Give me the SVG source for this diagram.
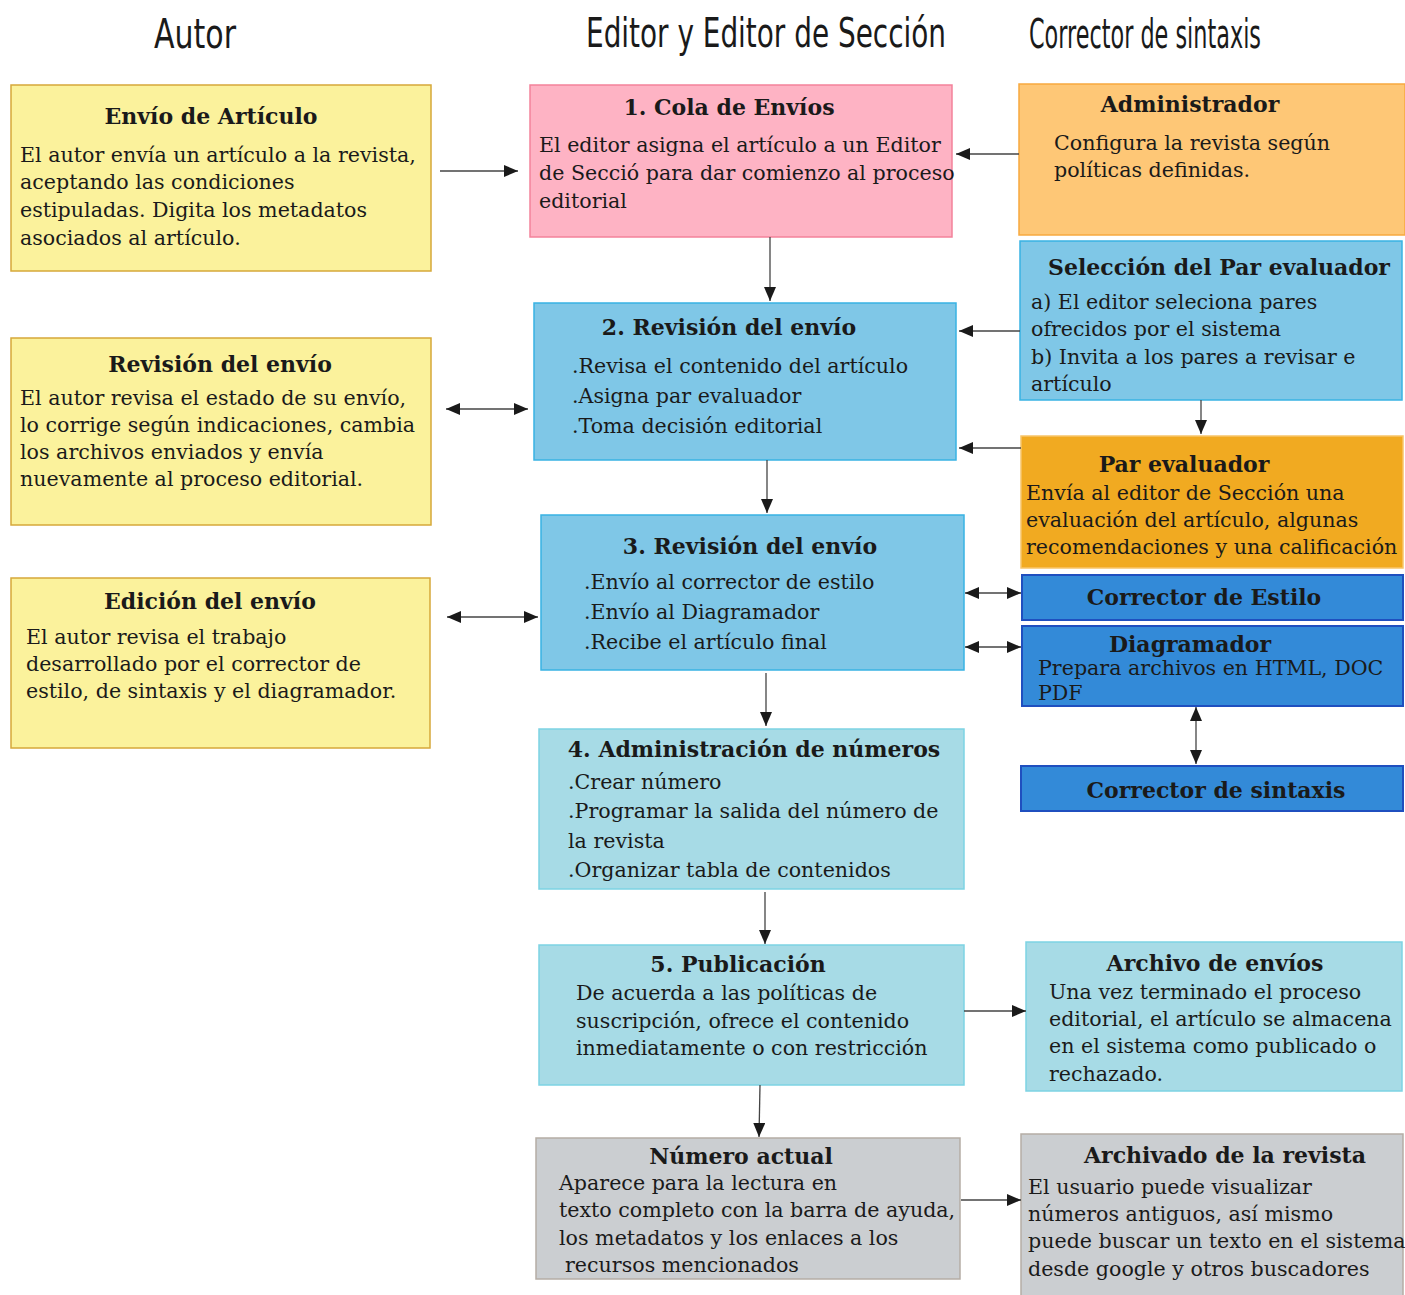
<svg xmlns="http://www.w3.org/2000/svg" width="1405" height="1295" viewBox="0 0 1405 1295">
<style>
.hd{font-family:"DejaVu Sans Condensed","Liberation Sans Narrow","DejaVu Sans",sans-serif;font-stretch:condensed;font-size:40px;fill:#1a1a1a}
.t{font-family:"DejaVu Serif","Liberation Serif",serif;font-weight:bold;font-size:22px;fill:#1a1a1a;text-anchor:middle}
.b{font-family:"DejaVu Serif","Liberation Serif",serif;font-size:20.6px;fill:#1a1a1a}
.yel{fill:#fbf29c;stroke:#d6a83a;stroke-width:1.5}
.pink{fill:#feb3c4;stroke:#f3829b;stroke-width:1.5}
.blue{fill:#7fc7e7;stroke:#39b3e3;stroke-width:1.5}
.cyan{fill:#a7dbe6;stroke:#7dd3e3;stroke-width:1.5}
.gray{fill:#cbced1;stroke:#b5ada5;stroke-width:1.5}
.orl{fill:#fec776;stroke:#f7a93f;stroke-width:1.5}
.ord{fill:#f1aa21;stroke:#f8c56a;stroke-width:1.5}
.dbl{fill:#338ad8;stroke:#1f4fbf;stroke-width:2}
.c{stroke:#444;stroke-width:1.3;fill:none}
</style>
<defs>
<marker id="ah" viewBox="0 0 14 12" refX="14" refY="6" markerWidth="14" markerHeight="12" markerUnits="userSpaceOnUse" orient="auto-start-reverse">
<path d="M0,0 L14,6 L0,12 Z" fill="#1a1a1a"/>
</marker>
</defs>
<rect width="1405" height="1295" fill="#ffffff"/>
<g id="headers">
<text class="hd" x="195" y="48" text-anchor="middle" textLength="82" lengthAdjust="spacingAndGlyphs">Autor</text>
<text class="hd" x="586" y="47" textLength="360" lengthAdjust="spacingAndGlyphs">Editor y Editor de Sección</text>
<text class="hd" x="1029" y="48" textLength="232" lengthAdjust="spacingAndGlyphs">Corrector de sintaxis</text>
</g>
<g id="envio-articulo">
<rect class="yel" x="11" y="85" width="420" height="186"/>
<text class="t" x="211" y="124">Envío de Artículo</text>
<text class="b" x="20" y="162">El autor envía un artículo a la revista,</text>
<text class="b" x="20" y="189">aceptando  las condiciones</text>
<text class="b" x="20" y="217">estipuladas. Digita los metadatos</text>
<text class="b" x="20" y="245">asociados al artículo.</text>
</g>
<g id="revision-autor">
<rect class="yel" x="11" y="338" width="420" height="187"/>
<text class="t" x="220" y="372">Revisión del envío</text>
<text class="b" x="20" y="405">El autor revisa el estado de su envío,</text>
<text class="b" x="20" y="432">lo corrige según indicaciones, cambia</text>
<text class="b" x="20" y="459">los archivos enviados y envía</text>
<text class="b" x="20" y="486">nuevamente al proceso editorial.</text>
</g>
<g id="edicion-autor">
<rect class="yel" x="11" y="578" width="419" height="170"/>
<text class="t" x="210" y="609">Edición del envío</text>
<text class="b" x="26" y="644">El autor revisa el trabajo</text>
<text class="b" x="26" y="671">desarrollado por el corrector de</text>
<text class="b" x="26" y="698">estilo, de sintaxis y el diagramador.</text>
</g>
<g id="cola-envios">
<rect class="pink" x="530" y="85" width="422" height="152"/>
<text class="t" x="729" y="115">1. Cola de Envíos</text>
<text class="b" x="539" y="152">El editor asigna el artículo a un Editor</text>
<text class="b" x="539" y="180">de Secció para dar comienzo al proceso</text>
<text class="b" x="539" y="208">editorial</text>
</g>
<g id="revision-2">
<rect class="blue" x="534" y="303" width="422" height="157"/>
<text class="t" x="729" y="335">2. Revisión del envío</text>
<text class="b" x="572" y="373">.Revisa el contenido del artículo</text>
<text class="b" x="572" y="403">.Asigna par evaluador</text>
<text class="b" x="572" y="433">.Toma decisión editorial</text>
</g>
<g id="revision-3">
<rect class="blue" x="541" y="515" width="423" height="155"/>
<text class="t" x="750" y="554">3. Revisión del envío</text>
<text class="b" x="584" y="589">.Envío al corrector de estilo</text>
<text class="b" x="584" y="619">.Envío al Diagramador</text>
<text class="b" x="584" y="649">.Recibe el artículo final</text>
</g>
<g id="administracion-numeros">
<rect class="cyan" x="539" y="729" width="425" height="160"/>
<text class="t" x="754" y="757">4. Administración de números</text>
<text class="b" x="568" y="789">.Crear número</text>
<text class="b" x="568" y="818">.Programar la salida del número de</text>
<text class="b" x="568" y="848">la revista</text>
<text class="b" x="568" y="877">.Organizar tabla de contenidos</text>
</g>
<g id="publicacion">
<rect class="cyan" x="539" y="945" width="425" height="140"/>
<text class="t" x="738" y="972">5. Publicación</text>
<text class="b" x="576" y="1000">De acuerda a las políticas de</text>
<text class="b" x="576" y="1028">suscripción,  ofrece el contenido</text>
<text class="b" x="576" y="1055">inmediatamente o con restricción</text>
</g>
<g id="numero-actual">
<rect class="gray" x="536" y="1138" width="424" height="141"/>
<text class="t" x="741" y="1164">Número actual</text>
<text class="b" x="559" y="1190">Aparece para la lectura en</text>
<text class="b" x="559" y="1217">texto completo con la barra de ayuda,</text>
<text class="b" x="559" y="1245">los metadatos y los enlaces a los</text>
<text class="b" x="565" y="1272">recursos mencionados</text>
</g>
<g id="administrador">
<rect class="orl" x="1019" y="84" width="386" height="151"/>
<text class="t" x="1190" y="112">Administrador</text>
<text class="b" x="1054" y="150">Configura la revista según</text>
<text class="b" x="1054" y="177">políticas definidas.</text>
</g>
<g id="seleccion-par">
<rect class="blue" x="1020" y="241" width="382" height="159"/>
<text class="t" x="1219" y="275">Selección del Par evaluador</text>
<text class="b" x="1031" y="309">a) El editor seleciona pares</text>
<text class="b" x="1031" y="336">ofrecidos por el sistema</text>
<text class="b" x="1031" y="364">b) Invita a los pares a revisar e</text>
<text class="b" x="1031" y="391">artículo</text>
</g>
<g id="par-evaluador">
<rect class="ord" x="1021" y="436" width="382" height="132"/>
<text class="t" x="1184" y="472">Par evaluador</text>
<text class="b" x="1026" y="500">Envía al editor de Sección una</text>
<text class="b" x="1026" y="527">evaluación del artículo, algunas</text>
<text class="b" x="1026" y="554">recomendaciones y una calificación</text>
</g>
<g id="corrector-estilo">
<rect class="dbl" x="1022" y="575" width="381" height="45"/>
<text class="t" x="1204" y="605">Corrector de Estilo</text>
</g>
<g id="diagramador">
<rect class="dbl" x="1022" y="626" width="381" height="80"/>
<text class="t" x="1190" y="652">Diagramador</text>
<text class="b" x="1038" y="675">Prepara archivos en HTML, DOC</text>
<text class="b" x="1038" y="700">PDF</text>
</g>
<g id="corrector-sintaxis">
<rect class="dbl" x="1021" y="766" width="382" height="45"/>
<text class="t" x="1216" y="798">Corrector de sintaxis</text>
</g>
<g id="archivo-envios">
<rect class="cyan" x="1026" y="942" width="376" height="149"/>
<text class="t" x="1215" y="971">Archivo de envíos</text>
<text class="b" x="1049" y="999">Una vez terminado el proceso</text>
<text class="b" x="1049" y="1026">editorial, el artículo se almacena</text>
<text class="b" x="1049" y="1053">en el sistema como publicado o</text>
<text class="b" x="1049" y="1081">rechazado.</text>
</g>
<g id="archivado-revista">
<rect class="gray" x="1021" y="1134" width="382" height="165"/>
<text class="t" x="1225" y="1163">Archivado de la revista</text>
<text class="b" x="1028" y="1194">El usuario puede visualizar</text>
<text class="b" x="1028" y="1221">números antiguos, así mismo</text>
<text class="b" x="1028" y="1248">puede buscar un texto en el sistema</text>
<text class="b" x="1028" y="1276">desde google y otros buscadores</text>
</g>
<g id="connectors">
<line class="c" x1="440" y1="171" x2="518" y2="171" marker-end="url(#ah)"/>
<line class="c" x1="1019" y1="154" x2="956" y2="154" marker-end="url(#ah)"/>
<line class="c" x1="770" y1="237" x2="770" y2="301" marker-end="url(#ah)"/>
<line class="c" x1="1020" y1="331" x2="959" y2="331" marker-end="url(#ah)"/>
<line class="c" x1="1021" y1="448" x2="959" y2="448" marker-end="url(#ah)"/>
<line class="c" x1="1201" y1="400" x2="1201" y2="434" marker-end="url(#ah)"/>
<line class="c" x1="446" y1="409" x2="528" y2="409" marker-start="url(#ah)" marker-end="url(#ah)"/>
<line class="c" x1="767" y1="460" x2="767" y2="513" marker-end="url(#ah)"/>
<line class="c" x1="447" y1="617" x2="538" y2="617" marker-start="url(#ah)" marker-end="url(#ah)"/>
<line class="c" x1="965" y1="593" x2="1021" y2="593" marker-start="url(#ah)" marker-end="url(#ah)"/>
<line class="c" x1="965" y1="647" x2="1021" y2="647" marker-start="url(#ah)" marker-end="url(#ah)"/>
<line class="c" x1="1196" y1="707" x2="1196" y2="764" marker-start="url(#ah)" marker-end="url(#ah)"/>
<line class="c" x1="766" y1="673" x2="766" y2="726" marker-end="url(#ah)"/>
<line class="c" x1="765" y1="892" x2="765" y2="944" marker-end="url(#ah)"/>
<line class="c" x1="964" y1="1011" x2="1026" y2="1011" marker-end="url(#ah)"/>
<line class="c" x1="760" y1="1085" x2="759" y2="1137" marker-end="url(#ah)"/>
<line class="c" x1="961" y1="1200" x2="1021" y2="1200" marker-end="url(#ah)"/>
</g>
</svg>
